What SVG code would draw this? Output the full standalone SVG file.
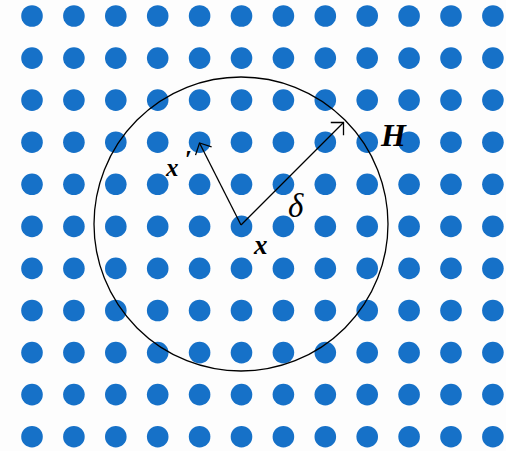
<svg xmlns="http://www.w3.org/2000/svg" xmlns:xlink="http://www.w3.org/1999/xlink" width="506" height="451" viewBox="0 0 506 451">
<style>
.dot{fill:#1771c8}
.ln{fill:none;stroke:#000;stroke-width:1.3}
.lbl{font-family:"Liberation Serif","Times New Roman",serif;font-style:italic;fill:#000}
.b{font-weight:bold}
</style>
<defs>
<filter id="soft" x="-5%" y="-5%" width="110%" height="110%"><feGaussianBlur stdDeviation="0.7"/></filter>
<marker id="arr" viewBox="-12 -10 14 20" markerWidth="14" markerHeight="20" refX="0" refY="0" orient="auto" markerUnits="userSpaceOnUse">
<path d="M-9,-9 L0,0 L-9,9" fill="none" stroke="#000" stroke-width="1.3"/>
</marker>
<g id="row" class="dot">
<circle cx="32" cy="0" r="10.8"/><circle cx="73.9" cy="0" r="10.8"/><circle cx="115.8" cy="0" r="10.8"/><circle cx="157.7" cy="0" r="10.8"/><circle cx="199.6" cy="0" r="10.8"/><circle cx="241.5" cy="0" r="10.8"/><circle cx="283.4" cy="0" r="10.8"/><circle cx="325.3" cy="0" r="10.8"/><circle cx="367.2" cy="0" r="10.8"/><circle cx="409.1" cy="0" r="10.8"/><circle cx="451" cy="0" r="10.8"/><circle cx="492.9" cy="0" r="10.8"/>
</g>
</defs>
<rect width="506" height="451" fill="#fdfdfd"/>
<g id="grid" filter="url(#soft)">
<use xlink:href="#row" y="16"/><use xlink:href="#row" y="58.1"/><use xlink:href="#row" y="100.1"/><use xlink:href="#row" y="142.2"/><use xlink:href="#row" y="184.3"/><use xlink:href="#row" y="226.4"/><use xlink:href="#row" y="268.4"/><use xlink:href="#row" y="310.5"/><use xlink:href="#row" y="352.6"/><use xlink:href="#row" y="394.6"/><use xlink:href="#row" y="436.7"/>
</g>
<g id="H">
<circle class="ln" cx="241" cy="224" r="147"/>
<text class="lbl b" x="381" y="146" font-size="32">H</text>
</g>
<g id="connectors">
<line class="ln" x1="241" y1="225" x2="199.5" y2="143" marker-end="url(#arr)"/>
<line class="ln" x1="241" y1="225" x2="343.5" y2="122.5" marker-end="url(#arr)"/>
</g>
<g id="x">
<text class="lbl b" x="254" y="254" font-size="27">x</text>
</g>
<g id="xprime">
<text class="lbl b" x="166" y="176" font-size="25">x<tspan dx="6" dy="-8" font-size="26">′</tspan></text>
</g>
<g id="delta">
<text class="lbl" x="288" y="217" font-size="33">δ</text>
</g>
</svg>
